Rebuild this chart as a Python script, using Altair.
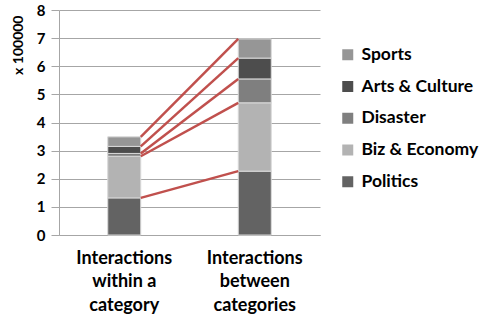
import altair as alt
import pandas as pd
import numpy as np

groups = ["Interactions|within a|category", "Interactions|between|categories"]
topics = ["Politics", "Biz & Economy", "Disaster", "Arts & Culture", "Sports"]
within_vals = [1.32, 1.48, 0.10, 0.25, 0.34]
between_vals = [2.27, 2.43, 0.85, 0.74, 0.68]
colors = {"Sports": "#969696", "Arts & Culture": "#4d4d4d", "Disaster": "#7f7f7f",
          "Biz & Economy": "#b3b3b3", "Politics": "#636363"}
legend_order = ["Sports", "Arts & Culture", "Disaster", "Biz & Economy", "Politics"]
y_ticks = [0, 1, 2, 3, 4, 5, 6, 7, 8]

rows = []
for g, vals in zip(groups, [within_vals, between_vals]):
    for i, (t, v) in enumerate(zip(topics, vals)):
        rows.append({"group": g, "topic": t, "value": v, "ord": i})
bars_df = pd.DataFrame(rows)

tops_w = np.cumsum(within_vals)
tops_b = np.cumsum(between_vals)
lines_df = pd.DataFrame({"g1": groups[0], "g2": groups[1], "y1": tops_w, "y2": tops_b})

FONT = "Lato"
xscale = alt.Scale(domain=groups, paddingInner=0, paddingOuter=0)
yscale = alt.Scale(domain=[0, 8])

x_axis = alt.Axis(
    title=None, labelAngle=0, ticks=False, domain=True, domainColor="#a6a6a6",
    labelExpr="split(datum.value, '|')", labelFont=FONT, labelFontSize=18,
    labelFontWeight="bold", labelColor="#000000", labelPadding=14,
    labelLineHeight=23.5, labelBaseline="top")
y_axis = alt.Axis(
    title="x 100000", values=y_ticks, tickCount=9, labelOverlap=False, tickSize=8,
    tickColor="#a6a6a6", domainColor="#a6a6a6", gridColor="#a6a6a6", grid=True,
    labelPadding=6, labelFont=FONT, labelFontSize=15, labelFontWeight="bold",
    labelColor="#000000", titleFont=FONT, titleFontSize=14, titleFontWeight="bold",
    titleColor="#000000", titleAngle=-90, titleAlign="right",
    titleBaseline="middle", titleX=-41, titleY=5)

bars = alt.Chart(bars_df).mark_bar(size=33, stroke="#d9d9d9", strokeWidth=1).encode(
    x=alt.X("group:N", scale=xscale, sort=groups, axis=x_axis),
    y=alt.Y("value:Q", stack="zero", scale=yscale, axis=y_axis),
    color=alt.Color("topic:N", scale=alt.Scale(domain=legend_order,
                    range=[colors[t] for t in legend_order]),
                    legend=alt.Legend(title=None, orient="none", legendX=280, legendY=36,
                                      symbolType="square", symbolSize=121,
                                      symbolStrokeWidth=0, labelFont=FONT,
                                      labelFontSize=17.5, labelFontWeight="bold",
                                      labelColor="#000000", rowPadding=12.75,
                                      labelOffset=5)),
    order=alt.Order("ord:Q", sort="ascending"),
)

lines = alt.Chart(lines_df).mark_rule(color="#c0504d", strokeWidth=2.5,
                                      xOffset=16.5, x2Offset=-16.5).encode(
    x=alt.X("g1:N", scale=xscale, sort=groups, axis=x_axis),
    x2="g2:N",
    y=alt.Y("y1:Q", scale=yscale, axis=y_axis),
    y2="y2:Q",
)

chart = alt.layer(bars, lines).properties(
    width=261, height=225,
    autosize=alt.AutoSizeParams(type="none"),
    padding={"left": 59, "top": 10, "right": 164, "bottom": 90},
).configure_view(stroke=None).configure_axis(gridWidth=1, domainWidth=1)

chart.save("out.html", embed_options={"renderer": "svg", "actions": False})
